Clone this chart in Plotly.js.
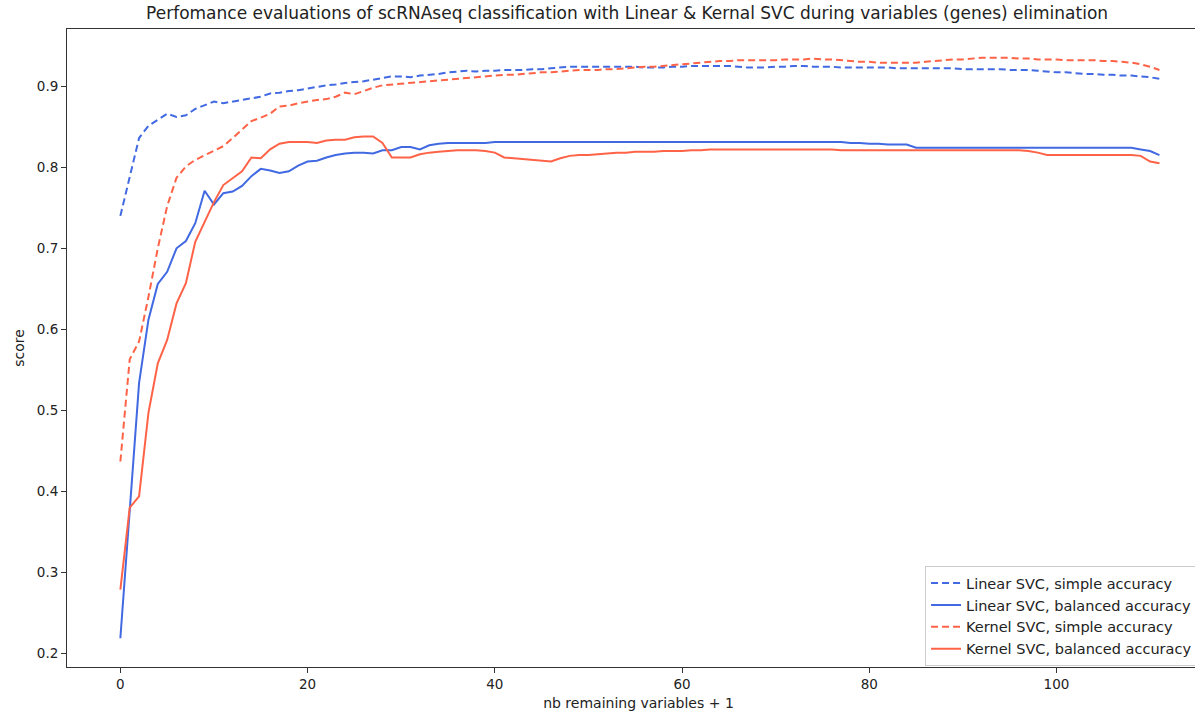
<!DOCTYPE html>
<html>
<head>
<meta charset="utf-8">
<script src="https://cdn.plot.ly/plotly-3.0.1.min.js"></script>
<style>
html, body { margin: 0; padding: 0; overflow: hidden; background: #fff; }
#chart { width: 1240px; height: 712px; }
</style>
</head>
<body>
<div id="chart"></div>
<script>
const nbVariables = Array.from({length: 112}, (_, i) => i);

const linearSimple = [
0.740,0.790,0.836,0.851,0.859,0.866,0.862,0.864,0.872,0.877,
0.881,0.879,0.881,0.883,0.885,0.887,0.891,0.892,0.894,0.895,
0.897,0.899,0.901,0.902,0.904,0.905,0.906,0.908,0.910,0.912,
0.912,0.911,0.913,0.914,0.915,0.917,0.918,0.919,0.918,0.919,
0.919,0.920,0.920,0.920,0.921,0.921,0.922,0.923,0.924,0.924,
0.924,0.924,0.924,0.924,0.924,0.924,0.923,0.923,0.923,0.924,
0.924,0.925,0.925,0.925,0.925,0.925,0.924,0.923,0.923,0.923,
0.924,0.924,0.925,0.925,0.924,0.924,0.924,0.923,0.923,0.923,
0.923,0.923,0.923,0.922,0.922,0.922,0.922,0.922,0.922,0.922,
0.921,0.921,0.921,0.921,0.921,0.920,0.920,0.920,0.919,0.918,
0.917,0.917,0.916,0.915,0.915,0.914,0.914,0.913,0.913,0.912,
0.911,0.909];

const linearBalanced = [
0.219,0.378,0.534,0.612,0.656,0.671,0.700,0.709,0.731,0.771,
0.754,0.768,0.770,0.777,0.789,0.798,0.796,0.793,0.795,0.802,
0.807,0.808,0.812,0.815,0.817,0.818,0.818,0.817,0.821,0.821,
0.825,0.825,0.822,0.827,0.829,0.830,0.830,0.830,0.830,0.830,
0.831,0.831,0.831,0.831,0.831,0.831,0.831,0.831,0.831,0.831,
0.831,0.831,0.831,0.831,0.831,0.831,0.831,0.831,0.831,0.831,
0.831,0.831,0.831,0.831,0.831,0.831,0.831,0.831,0.831,0.831,
0.831,0.831,0.831,0.831,0.831,0.831,0.831,0.831,0.830,0.830,
0.829,0.829,0.828,0.828,0.828,0.824,0.824,0.824,0.824,0.824,
0.824,0.824,0.824,0.824,0.824,0.824,0.824,0.824,0.824,0.824,
0.824,0.824,0.824,0.824,0.824,0.824,0.824,0.824,0.824,0.822,
0.820,0.815];

const kernelSimple = [
0.437,0.563,0.585,0.640,0.700,0.752,0.787,0.801,0.809,0.815,
0.820,0.826,0.836,0.846,0.857,0.861,0.866,0.875,0.876,0.879,
0.881,0.883,0.884,0.887,0.892,0.890,0.894,0.898,0.901,0.902,
0.903,0.904,0.905,0.906,0.907,0.908,0.909,0.910,0.911,0.912,
0.913,0.914,0.914,0.915,0.916,0.917,0.917,0.918,0.919,0.920,
0.920,0.920,0.921,0.921,0.922,0.923,0.924,0.924,0.925,0.926,
0.927,0.928,0.929,0.930,0.931,0.931,0.932,0.932,0.932,0.932,
0.932,0.933,0.933,0.933,0.934,0.933,0.933,0.932,0.931,0.930,
0.930,0.929,0.929,0.929,0.929,0.929,0.930,0.931,0.932,0.933,
0.933,0.934,0.935,0.935,0.935,0.935,0.934,0.934,0.933,0.933,
0.933,0.932,0.932,0.932,0.932,0.931,0.931,0.930,0.929,0.927,
0.924,0.920];

const kernelBalanced = [
0.279,0.380,0.394,0.497,0.558,0.587,0.632,0.657,0.708,0.733,
0.757,0.778,0.787,0.795,0.812,0.811,0.822,0.829,0.831,0.831,
0.831,0.830,0.833,0.834,0.834,0.837,0.838,0.838,0.830,0.812,
0.812,0.812,0.816,0.818,0.819,0.820,0.821,0.821,0.821,0.820,
0.818,0.812,0.811,0.810,0.809,0.808,0.807,0.811,0.814,0.815,
0.815,0.816,0.817,0.818,0.818,0.819,0.819,0.819,0.820,0.820,
0.820,0.821,0.821,0.822,0.822,0.822,0.822,0.822,0.822,0.822,
0.822,0.822,0.822,0.822,0.822,0.822,0.822,0.821,0.821,0.821,
0.821,0.821,0.821,0.821,0.821,0.821,0.821,0.821,0.821,0.821,
0.821,0.821,0.821,0.821,0.821,0.821,0.821,0.820,0.818,0.815,
0.815,0.815,0.815,0.815,0.815,0.815,0.815,0.815,0.815,0.814,
0.807,0.805];

const seriesNames = [
  "Linear SVC, simple accuracy",
  "Linear SVC, balanced accuracy",
  "Kernel SVC, simple accuracy",
  "Kernel SVC, balanced accuracy"
];

const blue = "#4169E1";
const red = "#FF6347";
const dashPattern = "7px,4px";

const traces = [
  {x: nbVariables, y: linearSimple, name: seriesNames[0], mode: "lines",
   line: {color: blue, width: 2, dash: dashPattern}},
  {x: nbVariables, y: linearBalanced, name: seriesNames[1], mode: "lines",
   line: {color: blue, width: 2}},
  {x: nbVariables, y: kernelSimple, name: seriesNames[2], mode: "lines",
   line: {color: red, width: 2, dash: dashPattern}},
  {x: nbVariables, y: kernelBalanced, name: seriesNames[3], mode: "lines",
   line: {color: red, width: 2}}
];

const fontFam = "DejaVu Sans, sans-serif";

const layout = {
  width: 1240,
  height: 712,
  margin: {l: 67, r: 30, t: 29, b: 45},
  paper_bgcolor: "#ffffff",
  plot_bgcolor: "#ffffff",
  font: {family: fontFam, size: 13, color: "#222"},
  title: {
    text: "Perfomance evaluations of scRNAseq classification with Linear &amp; Kernal SVC during variables (genes) elimination",
    font: {family: fontFam, size: 17, color: "#222"},
    xref: "paper", x: 0.49, xanchor: "center",
    yref: "container", y: 0.982, yanchor: "middle"
  },
  xaxis: {
    range: [-5.7, 116.4],
    tickvals: [0, 20, 40, 60, 80, 100],
    ticktext: ["0", "20", "40", "60", "80", "100"],
    showgrid: false, zeroline: false,
    showline: true, mirror: true, linecolor: "#333", linewidth: 1,
    ticks: "outside", ticklen: 5, tickcolor: "#333", tickwidth: 1,
    tickfont: {family: fontFam, size: 13.5, color: "#222"},
    title: {text: "nb remaining variables + 1", font: {family: fontFam, size: 14, color: "#222"}, standoff: 6}
  },
  yaxis: {
    range: [0.1835, 0.9705],
    tickvals: [0.2, 0.3, 0.4, 0.5, 0.6, 0.7, 0.8, 0.9],
    ticktext: ["0.2", "0.3", "0.4", "0.5", "0.6", "0.7", "0.8", "0.9"],
    showgrid: false, zeroline: false,
    showline: true, mirror: true, linecolor: "#333", linewidth: 1,
    ticks: "outside", ticklen: 5, tickcolor: "#333", tickwidth: 1,
    tickfont: {family: fontFam, size: 13.5, color: "#222"},
    title: {text: "score", font: {family: fontFam, size: 14, color: "#222"}, standoff: 8}
  },
  showlegend: true,
  legend: {
    x: 0.7507, xanchor: "left",
    y: 0.158, yanchor: "top",
    bgcolor: "rgba(255,255,255,0.85)",
    bordercolor: "#cccccc", borderwidth: 1,
    font: {family: fontFam, size: 14.5, color: "#222"},
    tracegroupgap: 0,
    itemwidth: 30
  }
};

Plotly.newPlot("chart", traces, layout, {displayModeBar: false, staticPlot: true});
</script>
</body>
</html>
